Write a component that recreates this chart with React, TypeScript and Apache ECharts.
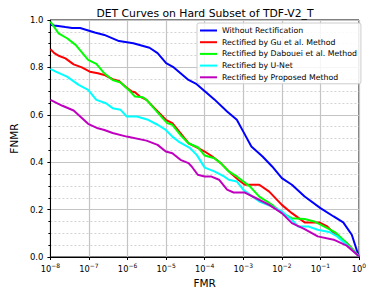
import React, { useEffect, useRef } from "react";
import * as echarts from "echarts";

const titleText = "DET Curves on Hard Subset of TDF-V2_T";
const seriesNames = [
  "Without Rectification",
  "Rectified by Gu et al. Method",
  "Rectified by Dabouei et al. Method",
  "Rectified by U-Net",
  "Rectified by Proposed Method",
];
const seriesColors = ["#0000ff", "#ff0000", "#00ff00", "#00ffff", "#bf00bf"];
const yTicks = [0, 0.2, 0.4, 0.6, 0.8, 1.0];

// [FMR, FNMR]
const withoutRect: number[][] = [
  [1e-8, 0.98], [1.26e-8, 0.977], [2.45e-8, 0.97], [3.63e-8, 0.966], [5.9e-8, 0.966],
  [8.7e-8, 0.958], [1.41e-7, 0.947], [2.5e-7, 0.937], [6.0e-7, 0.911], [1.41e-6, 0.902],
  [3.7e-6, 0.883], [6.0e-6, 0.86], [1e-5, 0.818], [1.58e-5, 0.8], [3.8e-5, 0.747],
  [6.2e-5, 0.729], [1.78e-4, 0.665], [3.8e-4, 0.614], [6.8e-4, 0.579], [1e-3, 0.529],
  [1.62e-3, 0.466], [3.16e-3, 0.424], [5.6e-3, 0.382], [1e-2, 0.333], [1.82e-2, 0.305],
  [3.9e-2, 0.255], [0.1, 0.206], [0.22, 0.171], [0.39, 0.146], [0.65, 0.094], [1, 0.0],
];
const guMethod: number[][] = [
  [1e-8, 0.877], [1.26e-8, 0.86], [1.7e-8, 0.848], [2.45e-8, 0.838], [4e-8, 0.813],
  [6.5e-8, 0.8], [1.05e-7, 0.782], [1.7e-7, 0.775], [2.5e-7, 0.768], [4.1e-7, 0.75],
  [6e-7, 0.743], [8.7e-7, 0.719], [1.29e-6, 0.698], [1.55e-6, 0.695], [2.1e-6, 0.677],
  [3.1e-6, 0.663], [5e-6, 0.628], [8.1e-6, 0.593], [9.8e-6, 0.579], [1.45e-5, 0.565],
  [2.35e-5, 0.523], [3.8e-5, 0.48], [6.8e-5, 0.459], [1e-4, 0.445], [1.58e-4, 0.424],
  [2.6e-4, 0.396], [4.7e-4, 0.354], [7.4e-4, 0.326], [1.1e-3, 0.305], [2.6e-3, 0.305],
  [4.7e-3, 0.276], [1e-2, 0.22], [1.82e-2, 0.185], [3.9e-2, 0.146], [0.093, 0.146],
  [0.15, 0.129], [0.22, 0.101], [0.48, 0.059], [1, 0.003],
];
const daboueiMethod: number[][] = [
  [1e-8, 0.993], [1.62e-8, 0.944], [2.7e-8, 0.923], [4.5e-8, 0.895], [9.5e-8, 0.832],
  [1.55e-7, 0.815], [2.5e-7, 0.775], [4.1e-7, 0.747], [6.6e-7, 0.736], [1.07e-6, 0.705],
  [1.55e-6, 0.677], [2.5e-6, 0.674], [3.1e-6, 0.663], [8.1e-6, 0.586], [1.07e-5, 0.565],
  [1.45e-5, 0.558], [2.35e-5, 0.515], [3.8e-5, 0.48], [6.8e-5, 0.462], [1e-4, 0.428],
  [1.78e-4, 0.417], [2.6e-4, 0.396], [4.2e-4, 0.361], [6.8e-4, 0.34], [1.48e-3, 0.298],
  [2.6e-3, 0.255], [5.6e-3, 0.22], [1e-2, 0.185], [1.82e-2, 0.164], [3.9e-2, 0.16],
  [6.9e-2, 0.15], [0.123, 0.129], [0.245, 0.104], [0.48, 0.059], [1, 0.003],
];
const uNet: number[][] = [
  [1e-8, 0.794], [1.38e-8, 0.782], [2.7e-8, 0.761], [5.4e-8, 0.726], [9.5e-8, 0.705],
  [1.55e-7, 0.663], [2.75e-7, 0.649], [4.1e-7, 0.628], [6.6e-7, 0.621], [9.5e-7, 0.593],
  [1.74e-6, 0.593], [3.4e-6, 0.579], [6e-6, 0.558], [9.8e-6, 0.536], [1.45e-5, 0.508],
  [2.1e-5, 0.487], [4.2e-5, 0.459], [6.2e-5, 0.431], [1e-4, 0.377], [1.78e-4, 0.361],
  [3.16e-4, 0.34], [4.2e-4, 0.326], [6.8e-4, 0.319], [1e-3, 0.284], [1.48e-3, 0.263],
  [2.6e-3, 0.234], [5.6e-3, 0.213], [1e-2, 0.192], [1.82e-2, 0.157], [2.6e-2, 0.129],
  [4.8e-2, 0.129], [8.5e-2, 0.115], [0.18, 0.104], [0.27, 0.087], [0.48, 0.052], [1, 0.003],
];
const proposed: number[][] = [
  [1e-8, 0.663], [2.05e-8, 0.638], [4e-8, 0.618], [9.5e-8, 0.562], [1.7e-7, 0.543],
  [2.5e-7, 0.536], [4.1e-7, 0.523], [9.5e-7, 0.508], [3.1e-6, 0.491], [6e-6, 0.473],
  [9.8e-6, 0.445], [1.45e-5, 0.438], [2.35e-5, 0.41], [3.8e-5, 0.396], [4.6e-5, 0.382],
  [6.6e-5, 0.347], [1e-4, 0.34], [1.45e-4, 0.34], [2.35e-4, 0.326], [3.8e-4, 0.284],
  [5.6e-4, 0.272], [1.1e-3, 0.272], [2.1e-3, 0.249], [4.7e-3, 0.22], [1e-2, 0.185],
  [1.82e-2, 0.143], [3.9e-2, 0.118], [8.5e-2, 0.087], [0.22, 0.073], [0.48, 0.048], [1, 0.003],
];

const seriesData = [withoutRect, guMethod, daboueiMethod, uNet, proposed];

const FONT = "DejaVu Sans";

export default function App() {
  const ref = useRef<HTMLDivElement>(null);
  useEffect(() => {
    if (!ref.current) return;
    const chart = echarts.init(ref.current, undefined, { renderer: "svg" });
    chart.setOption({
      animation: false,
      backgroundColor: "#ffffff",
      textStyle: { fontFamily: FONT },
      title: {
        text: titleText,
        left: 200,
        textAlign: "center",
        top: 3,
        textStyle: { fontFamily: FONT, fontSize: 10.8, fontWeight: "normal", color: "#000" },
      },
      grid: {
        left: 41,
        right: 15,
        top: 20,
        bottom: 37,
        show: true,
        borderColor: "#000",
        borderWidth: 1,
        backgroundColor: "transparent",
      },
      legend: {
        orient: "vertical",
        left: 197,
        top: 23,
        padding: [2, 4, 1, 3],
        itemGap: 0.7,
        itemWidth: 17,
        itemHeight: 2,
        icon: "rect",
        data: seriesNames,
        backgroundColor: "rgba(255,255,255,0.85)",
        borderColor: "#cccccc",
        borderWidth: 1,
        borderRadius: 2,
        textStyle: { fontFamily: FONT, fontSize: 7.8, lineHeight: 11, color: "#000" },
      },
      xAxis: {
        type: "log",
        logBase: 10,
        min: 1e-8,
        max: 1,
        interval: 1,
        name: "FMR",
        nameLocation: "middle",
        nameGap: 19,
        nameTextStyle: { fontFamily: FONT, fontSize: 10.5, color: "#000" },
        axisLine: { show: true, onZero: false, lineStyle: { color: "#000", width: 1 } },
        axisTick: { show: true, length: 3, lineStyle: { color: "#000" } },
        splitLine: { show: true, lineStyle: { color: "#c4c4c4", width: 1.2 } },
        axisLabel: {
          margin: 5,
          color: "#000",
          formatter: (v: number) => {
            const e = Math.round(Math.log10(v));
            const s = e < 0 ? "\u2212" + String(-e) : String(e);
            return "{b|10}{s|" + s + "}";
          },
          rich: {
            b: { fontFamily: FONT, fontSize: 8.3, lineHeight: 13, color: "#000" },
            s: { fontFamily: FONT, fontSize: 6, lineHeight: 6, verticalAlign: "top", color: "#000" },
          },
        },
      },
      yAxis: {
        type: "value",
        min: 0,
        max: 1,
        interval: 0.2,
        name: "FNMR",
        nameLocation: "middle",
        nameGap: 24,
        nameTextStyle: { fontFamily: FONT, fontSize: 10.5, color: "#000" },
        axisLine: { show: true, lineStyle: { color: "#000", width: 1 } },
        axisTick: { show: true, length: 3, lineStyle: { color: "#000" } },
        minorTick: { show: true, splitNumber: 4, length: 2, lineStyle: { color: "#000" } },
        splitLine: { show: true, lineStyle: { color: "#c4c4c4", width: 1.2 } },
        minorSplitLine: { show: true, lineStyle: { color: "#c8c8c8", width: 0.8, type: [2, 2] } },
        axisLabel: {
          margin: 7,
          color: "#000",
          fontFamily: FONT,
          fontSize: 8.5,
          formatter: (v: number) => (yTicks.indexOf(Math.round(v * 10) / 10) >= 0 ? v.toFixed(1) : ""),
        },
      },
      series: seriesData.map((d, i) => ({
        name: seriesNames[i],
        type: "line",
        data: d,
        symbol: "none",
        color: seriesColors[i],
        lineStyle: { color: seriesColors[i], width: 2 },
        z: 2 + i,
      })),
    });
    return () => chart.dispose();
  }, []);
  return (
    <div
      ref={ref}
      style={{ position: "absolute", left: 0, top: 0, width: 374, height: 294, background: "#fff" }}
    />
  );
}
